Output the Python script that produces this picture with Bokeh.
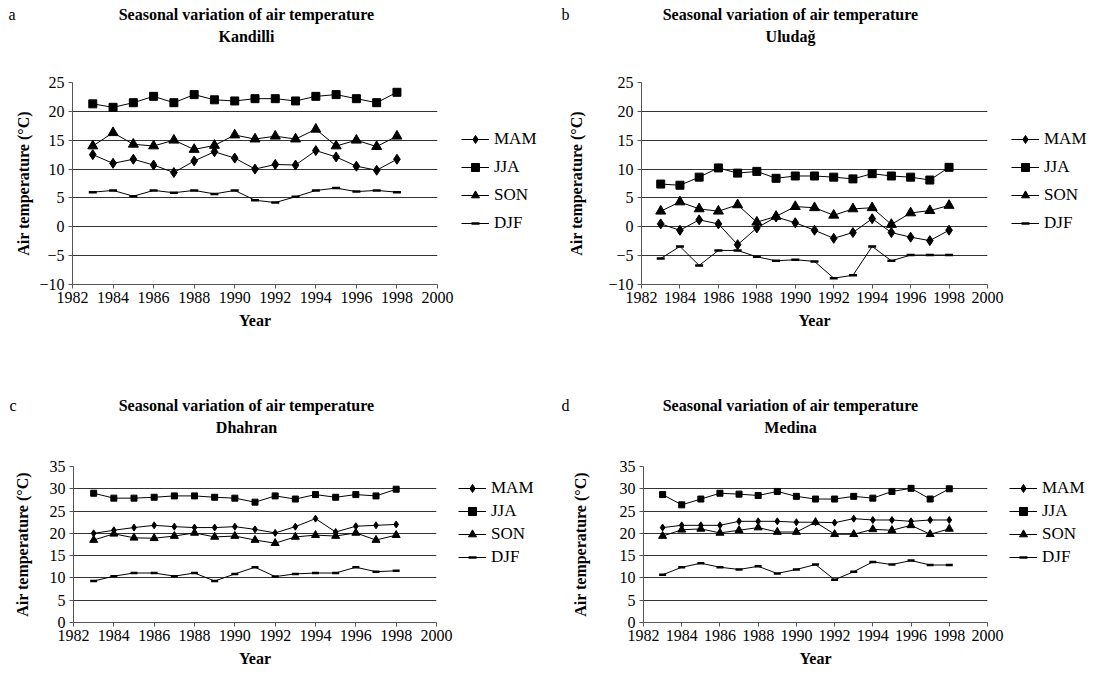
from bokeh.plotting import figure
from bokeh.layouts import column, row
from bokeh.models import Legend, LegendItem, FixedTicker, Range1d
from bokeh.core.properties import value
from bokeh.embed import file_html
from bokeh.resources import INLINE

years = list(range(1983, 1999))
x_ticks = list(range(1982, 2001, 2))
series_names = ["MAM", "JJA", "SON", "DJF"]
title_line = "Seasonal variation of air temperature"

kandilli_mam = [12.5, 11.0, 11.7, 10.7, 9.4, 11.4, 13.0, 11.9, 10.0, 10.8, 10.7, 13.2, 12.1, 10.5, 9.8, 11.7]
kandilli_jja = [21.3, 20.7, 21.5, 22.6, 21.5, 22.9, 22.0, 21.8, 22.2, 22.2, 21.8, 22.6, 22.9, 22.2, 21.5, 23.3]
kandilli_son = [14.0, 16.3, 14.3, 14.0, 15.0, 13.4, 14.1, 15.9, 15.2, 15.7, 15.2, 16.9, 14.0, 15.0, 13.9, 15.7]
kandilli_djf = [6.0, 6.3, 5.3, 6.3, 5.9, 6.3, 5.7, 6.3, 4.6, 4.2, 5.2, 6.3, 6.7, 6.1, 6.3, 6.0]

uludag_mam = [0.5, -0.6, 1.2, 0.5, -3.1, -0.2, 1.7, 0.7, -0.6, -2.0, -1.0, 1.4, -1.0, -1.8, -2.4, -0.6]
uludag_jja = [7.4, 7.2, 8.6, 10.2, 9.3, 9.6, 8.4, 8.8, 8.8, 8.6, 8.3, 9.2, 8.8, 8.6, 8.1, 10.3]
uludag_son = [2.7, 4.3, 3.1, 2.7, 3.8, 0.8, 1.8, 3.5, 3.3, 2.0, 3.1, 3.3, 0.4, 2.4, 2.8, 3.7]
uludag_djf = [-5.5, -3.4, -6.7, -4.1, -4.1, -5.2, -5.9, -5.7, -6.0, -8.9, -8.4, -3.4, -5.9, -4.9, -4.9, -4.9]

dhahran_mam = [20.0, 20.7, 21.3, 21.8, 21.5, 21.3, 21.3, 21.5, 20.9, 20.1, 21.5, 23.3, 20.3, 21.6, 21.8, 22.0]
dhahran_jja = [29.0, 27.9, 27.9, 28.1, 28.4, 28.4, 28.1, 27.9, 27.0, 28.4, 27.7, 28.7, 28.1, 28.7, 28.4, 29.9]
dhahran_son = [18.5, 19.9, 19.0, 18.9, 19.4, 20.1, 19.2, 19.4, 18.5, 17.8, 19.2, 19.6, 19.4, 20.1, 18.5, 19.6]
dhahran_djf = [9.3, 10.4, 11.1, 11.1, 10.4, 11.1, 9.3, 10.9, 12.4, 10.3, 10.9, 11.1, 11.1, 12.4, 11.4, 11.6]

medina_mam = [21.3, 21.8, 21.8, 21.8, 22.7, 22.7, 22.7, 22.5, 22.5, 22.4, 23.3, 23.0, 23.0, 22.7, 23.0, 23.0]
medina_jja = [28.7, 26.4, 27.7, 29.0, 28.8, 28.5, 29.4, 28.3, 27.7, 27.7, 28.3, 27.9, 29.4, 30.1, 27.7, 30.0]
medina_son = [19.4, 20.8, 21.0, 20.1, 20.7, 21.3, 20.3, 20.3, 22.5, 19.8, 19.8, 20.9, 20.7, 21.8, 19.8, 21.0]
medina_djf = [10.7, 12.4, 13.3, 12.4, 11.9, 12.6, 11.0, 11.9, 13.0, 9.6, 11.4, 13.6, 13.0, 13.9, 12.9, 12.9]

SERIF = "Times"
MARKERS = ["diamond", "square", "triangle", "dash"]
PLOT_RIGHT = 20


def header(letter, station, h, borders, fw, letter_standoff, title_x, y1, y2):
    left, right = borders
    hp = figure(frame_width=fw, frame_height=h, x_range=Range1d(0, fw), y_range=Range1d(h, 0),
                output_backend="svg", toolbar_location=None,
                min_border_left=left, min_border_right=right, min_border_top=0, min_border_bottom=0,
                x_axis_location=None)
    hp.outline_line_color = None
    hp.xgrid.grid_line_color = None
    hp.ygrid.grid_line_color = None
    ax = hp.yaxis[0]
    ax.ticker = FixedTicker(ticks=[y1])
    ax.major_label_overrides = {y1: letter}
    ax.axis_line_color = None
    ax.major_tick_line_color = None
    ax.minor_tick_line_color = None
    ax.major_tick_out = 0
    ax.major_tick_in = 0
    ax.major_label_standoff = letter_standoff
    ax.major_label_text_font = SERIF
    ax.major_label_text_font_size = "16px"
    ax.major_label_text_color = "black"
    hp.text(x=[title_x, title_x], y=[y1, y2], text=[title_line, station], text_font=value(SERIF),
            text_font_size="16px", text_font_style="bold", text_align="center",
            text_baseline="middle", text_color="black")
    return hp


def sizes_for(big):
    return [10, 8, 10, 8] if big else [7, 6, 8, 7]


def draw_series(fig, xs, series, big):
    rends = []
    for vals, mk, sz in zip(series, MARKERS, sizes_for(big)):
        lr = fig.line(xs, vals, line_color="black", line_width=1)
        if mk == "dash":
            sr = fig.scatter(xs, vals, marker=mk, size=sz, line_color="black", line_width=2.5)
        else:
            sr = fig.scatter(xs, vals, marker=mk, size=sz, fill_color="black", line_color="black")
        rends.append([lr, sr])
    return rends


def panel(series, y_lo, y_hi, borders, frame, big, ylab_standoff):
    left, top, bottom = borders
    fw, fh = frame
    p = figure(frame_width=fw, frame_height=fh, x_range=Range1d(1982, 2000), y_range=Range1d(y_lo, y_hi),
               output_backend="svg", toolbar_location=None,
               min_border_left=left, min_border_right=PLOT_RIGHT,
               min_border_top=top, min_border_bottom=bottom)
    p.outline_line_color = None
    p.xgrid.grid_line_color = None
    p.ygrid.grid_line_color = "#333333"
    p.ygrid.grid_line_width = 1
    p.xaxis.ticker = FixedTicker(ticks=x_ticks)
    p.yaxis.ticker = FixedTicker(ticks=list(range(y_lo, y_hi + 1, 5)))
    for ax in (p.xaxis[0], p.yaxis[0]):
        ax.minor_tick_line_color = None
        ax.major_tick_in = 0
        ax.major_tick_out = 4
        ax.axis_line_color = "#555555"
        ax.major_tick_line_color = "#555555"
        ax.major_label_text_font = SERIF
        ax.major_label_text_font_size = "16px"
        ax.major_label_text_color = "black"
        ax.axis_label_text_font = SERIF
        ax.axis_label_text_font_size = "16px"
        ax.axis_label_text_font_style = "bold"
        ax.axis_label_text_color = "black"
    p.xaxis.axis_label = "Year"
    p.xaxis.axis_label_standoff = 6
    p.xaxis.major_label_standoff = 3
    p.yaxis.axis_label = "Air temperature (°C)"
    p.yaxis.axis_label_standoff = ylab_standoff
    p.yaxis.major_label_standoff = 4
    draw_series(p, years, series, big)
    return p


def legend_fig(series, width, fh, top, bottom, big, spacing, loc):
    # Legend-only figure: the series are drawn outside its visible range, so only the legend shows.
    lf = figure(frame_width=width, frame_height=fh, x_range=Range1d(0, 1), y_range=Range1d(0, 1),
                output_backend="svg", toolbar_location=None,
                min_border_left=0, min_border_right=0, min_border_top=top, min_border_bottom=bottom,
                x_axis_location=None, y_axis_location=None)
    lf.outline_line_color = None
    lf.xgrid.grid_line_color = None
    lf.ygrid.grid_line_color = None
    rends = draw_series(lf, years, series, big)
    items = [LegendItem(label=n, renderers=r) for n, r in zip(series_names, rends)]
    leg = Legend(items=items, location=loc, border_line_color=None,
                 background_fill_alpha=0, label_text_font=SERIF, label_text_font_size="17px",
                 label_text_color="black", glyph_width=28, glyph_height=20, label_height=20,
                 spacing=spacing, padding=0, margin=0, label_standoff=5)
    lf.add_layout(leg)
    return lf


kandilli = [kandilli_mam, kandilli_jja, kandilli_son, kandilli_djf]
uludag = [uludag_mam, uludag_jja, uludag_son, uludag_djf]
dhahran = [dhahran_mam, dhahran_jja, dhahran_son, dhahran_djf]
medina = [medina_mam, medina_jja, medina_son, medina_djf]

ha = header("a", "Kandilli", 50, (72, 114), 365, 57, 174, 14, 36)
pa = panel(kandilli, -10, 25, (72, 32, 53), (365, 202), True, 4)
la = legend_fig(kandilli, 114 - PLOT_RIGHT, 202, 32, 53, True, 8, (4, 51))

hb = header("b", "Uludağ", 50, (90, 116), 346, 72, 149, 14, 36)
pb = panel(uludag, -10, 25, (90, 32, 53), (346, 202), True, 20)
lb = legend_fig(uludag, 116 - PLOT_RIGHT, 202, 32, 53, True, 8, (4, 51))

hc = header("c", "Dhahran", 100, (73, 115), 363, 57, 173, 68, 90)
pc = panel(dhahran, 0, 35, (73, 29, 52), (363, 156), False, 16)
lc = legend_fig(dhahran, 115 - PLOT_RIGHT, 156, 29, 52, False, 3, (2, 55))

hd = header("d", "Medina", 100, (92, 116), 344, 74, 147, 68, 90)
pd_ = panel(medina, 0, 35, (92, 29, 52), (344, 156), False, 28)
ld = legend_fig(medina, 116 - PLOT_RIGHT, 156, 29, 52, False, 3, (2, 55))

lay = column(row(ha, hb), row(pa, la, pb, lb), row(hc, hd), row(pc, lc, pd_, ld))
open("out.html", "w").write(file_html(lay, INLINE))
